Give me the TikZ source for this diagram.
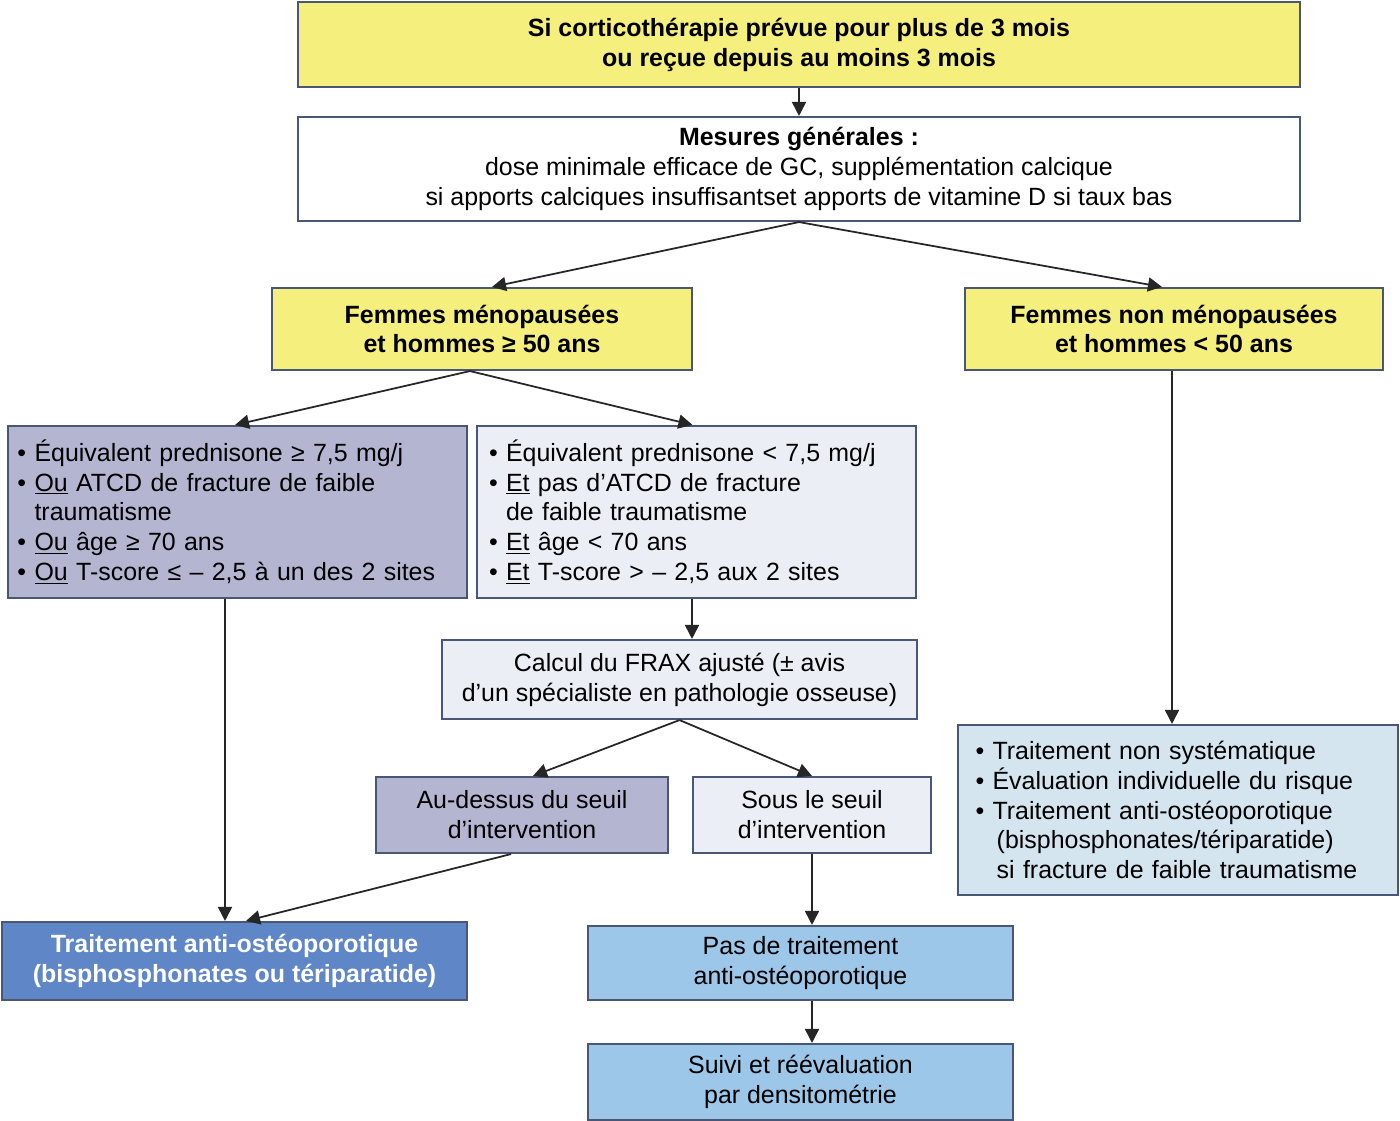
\documentclass[tikz,border=0pt]{standalone}
\usepackage{fontspec}
\setmainfont{Liberation Sans}
\usetikzlibrary{arrows.meta}
\definecolor{jaune}{HTML}{F5EF7E}
\definecolor{lavande}{HTML}{B4B6D1}
\definecolor{pale}{HTML}{ECEEF6}
\definecolor{bleu}{HTML}{5F86C6}
\definecolor{ciel}{HTML}{9CC7E8}
\definecolor{glace}{HTML}{D4E5F0}
\definecolor{bord}{HTML}{4A5676}
\newcommand{\pt}{\phantom{•\ }}
\begin{document}
\begin{tikzpicture}[x=0.02cm,y=-0.02cm,
  font=\fontsize{14.2}{17}\selectfont,
  boite/.style={draw=bord,line width=1.2pt,align=center,inner sep=0pt},
  liste/.style={boite,align=left},
  fleche/.style={-{Triangle[length=8pt,width=8pt]},line width=1pt,draw=black!85}]
  \useasboundingbox (0,0) rectangle (1400,1120);
  % ligne du haut
  \node[boite,fill=jaune,minimum width=1002*0.02cm,minimum height=85*0.02cm,font=\fontsize{14.2}{17}\selectfont\bfseries] (cortico) at (799,44.5)
    {Si corticothérapie prévue pour plus de 3 mois\\ou reçue depuis au moins 3 mois};
  \node[boite,fill=white,minimum width=1002*0.02cm,minimum height=104*0.02cm] (mesures) at (799,169)
    {\textbf{Mesures générales :}\\dose minimale efficace de GC, supplémentation calcique\\si apports calciques insuffisantset apports de vitamine D si taux bas};
  % deux groupes
  \node[boite,fill=jaune,minimum width=420*0.02cm,minimum height=82*0.02cm,font=\fontsize{14.2}{17}\selectfont\bfseries] (meno) at (482,329)
    {Femmes ménopausées\\et hommes ≥ 50 ans};
  \node[boite,fill=jaune,minimum width=418*0.02cm,minimum height=82*0.02cm,font=\fontsize{14.2}{17}\selectfont\bfseries] (nonmeno) at (1174,329)
    {Femmes non ménopausées\\et hommes < 50 ans};
  % listes de criteres
  \node[liste,fill=lavande,minimum width=459*0.02cm,minimum height=172*0.02cm,text width=440*0.02cm] (fort) at (237.5,512)
    {• Équivalent prednisone ≥ 7,5 mg/j\\• \underline{Ou} ATCD de fracture de faible\\\pt traumatisme\\• \underline{Ou} âge ≥ 70 ans\\• \underline{Ou} T-score ≤ – 2,5 à un des 2 sites};
  \node[liste,fill=pale,minimum width=439*0.02cm,minimum height=172*0.02cm,text width=415*0.02cm] (faible) at (696.5,512)
    {• Équivalent prednisone < 7,5 mg/j\\• \underline{Et} pas d’ATCD de fracture\\\pt de faible traumatisme\\• \underline{Et} âge < 70 ans\\• \underline{Et} T-score > – 2,5 aux 2 sites};
  \node[boite,fill=pale,minimum width=475*0.02cm,minimum height=79*0.02cm] (frax) at (679.5,679.5)
    {Calcul du FRAX ajusté (± avis\\d’un spécialiste en pathologie osseuse)};
  \node[boite,fill=lavande,minimum width=292*0.02cm,minimum height=76*0.02cm] (dessus) at (522,815)
    {Au-dessus du seuil\\d’intervention};
  \node[boite,fill=pale,minimum width=238*0.02cm,minimum height=76*0.02cm] (sous) at (812,815)
    {Sous le seuil\\d’intervention};
  % issues
  \node[boite,fill=bleu,text=white,minimum width=465*0.02cm,minimum height=78*0.02cm,font=\fontsize{14.2}{17}\selectfont\bfseries] (traitement) at (234.5,961)
    {Traitement anti-ostéoporotique\\(bisphosphonates ou tériparatide)};
  \node[boite,fill=ciel,minimum width=425*0.02cm,minimum height=74*0.02cm] (pasttt) at (800.5,963)
    {Pas de traitement\\anti-ostéoporotique};
  \node[boite,fill=ciel,minimum width=425*0.02cm,minimum height=76*0.02cm] (suivi) at (800.5,1082)
    {Suivi et réévaluation\\par densitométrie};
  \node[liste,fill=glace,minimum width=440*0.02cm,minimum height=170*0.02cm,text width=405*0.02cm] (jeunes) at (1178,810)
    {• Traitement non systématique\\• Évaluation individuelle du risque\\• Traitement anti-ostéoporotique\\\pt\,(bisphosphonates/tériparatide)\\\pt\,si fracture de faible traumatisme};
  % fleches
  \draw[fleche] (cortico) -- (mesures);
  \draw[fleche] (mesures.south) -- ([xshift=0.2cm]meno.north);
  \draw[fleche] (mesures.south) -- ([xshift=-0.24cm]nonmeno.north);
  \draw[fleche] ([xshift=-0.24cm]meno.south) -- ([xshift=-0.05cm]fort.north);
  \draw[fleche] ([xshift=-0.24cm]meno.south) -- ([xshift=-0.08cm]faible.north);
  \draw[fleche] ([xshift=-0.25cm]fort.south) -- ([xshift=-0.19cm]traitement.north);
  \draw[fleche] ([xshift=-0.22cm]dessus.south) -- ([xshift=0.23cm]traitement.north);
  \draw[fleche] ([xshift=-0.09cm]faible.south) -- ([xshift=0.25cm]frax.north);
  \draw[fleche] (frax.south) -- ([xshift=0.22cm]dessus.north);
  \draw[fleche] (frax.south) -- (sous.north);
  \draw[fleche] (sous) -- ([xshift=0.23cm]pasttt.north);
  \draw[fleche] ([xshift=0.23cm]pasttt.south) -- ([xshift=0.23cm]suivi.north);
  \draw[fleche] ([xshift=-0.04cm]nonmeno.south) -- ([xshift=-0.12cm]jeunes.north);
\end{tikzpicture}
\end{document}
